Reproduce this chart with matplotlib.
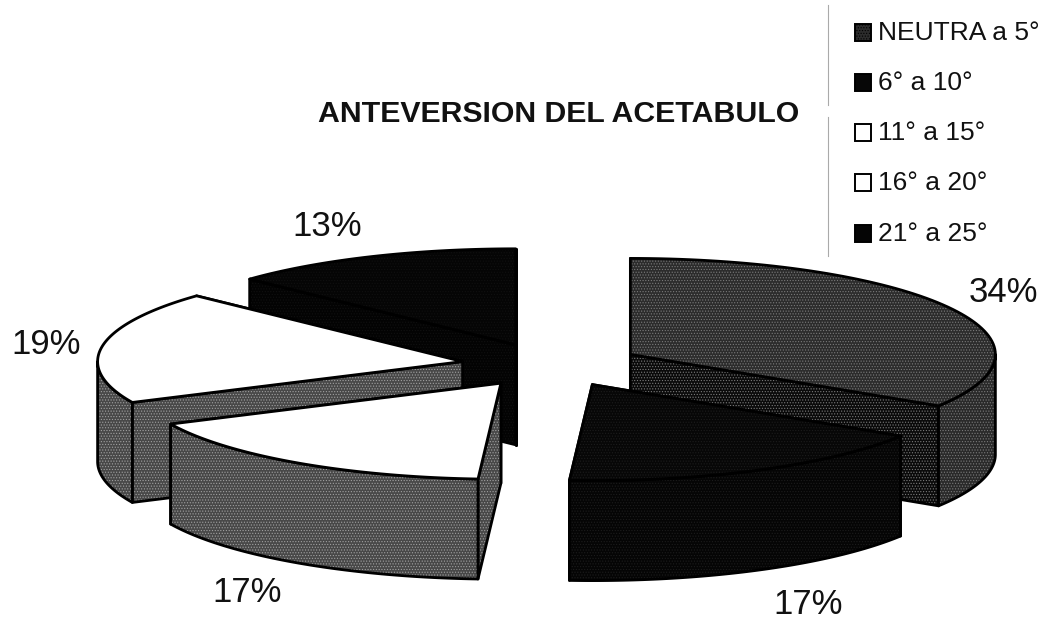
"""Exploded 3D pie, anteversion of the acetabulum. Slices are extruded by hand, mplot3d pies look wrong."""
import matplotlib
matplotlib.use("Agg")
import matplotlib.pyplot as plt
from matplotlib.patches import Polygon, Rectangle
import numpy as np

plt.rcParams["font.family"] = ["Liberation Sans", "DejaVu Sans"]
plt.rcParams["hatch.linewidth"] = 0.5

categories = ["NEUTRA a 5°", "6° a 10°", "11° a 15°", "16° a 20°", "21° a 25°"]
values = [34, 17, 17, 19, 13]
top_colors = ["#2c2c2c", "#070707", "#ffffff", "#ffffff", "#050505"]
arc_colors = ["#2a2a2a", "#050505", "#484848", "#484848", "#030303"]
radial_colors = ["#0a0a0a", "#050505", "#484848", "#484848", "#030303"]
grain = ["#7a7a7a", "#1c1c1c", "#a0a0a0", "#a0a0a0", "#101010"]
label_xy = [(1003, 292), (808, 605), (247, 593), (46, 345), (327, 227)]
legend_y = [32, 82, 132, 182, 233]

CX, CY = 551.5, 365      # pie centre in pixels
RX, RY = 365, 96         # ellipse radii of the top face
DEPTH = 100
KX, KY = 90, 22          # explode distance
draw_order = [4, 3, 0, 1, 2]

fracs = np.array(values) / sum(values) * 360
starts = np.concatenate([[0], np.cumsum(fracs)[:-1]])

fig = plt.figure(figsize=(10.58, 6.22), dpi=100)
ax = fig.add_axes([0, 0, 1, 1])
ax.set_xlim(0, 1058); ax.set_ylim(622, 0)
ax.axis("off")


def rim(cx, cy, a0, a1):
    t = np.radians(np.linspace(a0, a1, 80))
    return np.column_stack([cx + RX * np.sin(t), cy - RY * np.cos(t)])


def face(pts, fill, speck, z):
    ax.add_patch(Polygon(pts, closed=True, facecolor=fill, edgecolor=speck, hatch="......", lw=0, zorder=z))
    ax.add_patch(Polygon(pts, closed=True, fill=False, edgecolor="black", lw=2, joinstyle="round", zorder=z + 0.1))


drop = np.array([0, DEPTH])
for z, i in enumerate(draw_order):
    a0, a1 = starts[i], starts[i] + fracs[i]
    mid = np.radians((a0 + a1) / 2)
    cx, cy = CX + KX * np.sin(mid), CY - KY * np.cos(mid)
    apex = np.array([[cx, cy]])
    base = z * 10
    # radial walls, back one first
    ends = sorted([a0, a1], key=lambda a: -np.cos(np.radians(a)) * RY)
    for k, a in enumerate(ends):
        edge = rim(cx, cy, a, a)[:1]
        quad = np.vstack([apex, edge, edge + drop, apex + drop])
        face(quad, radial_colors[i], grain[i], base + k)
    # outer wall, only the part facing the viewer
    f0, f1 = max(a0, 90), min(a1, 270)
    if f1 > f0:
        arc = rim(cx, cy, f0, f1)
        face(np.vstack([arc, arc[::-1] + drop]), arc_colors[i], grain[i], base + 2)
    top = np.vstack([apex, rim(cx, cy, a0, a1)])
    if top_colors[i] == "#ffffff":
        ax.add_patch(Polygon(top, closed=True, facecolor="white", edgecolor="black", lw=2, zorder=base + 3))
    else:
        face(top, top_colors[i], grain[i], base + 3)

for v, (x, y) in zip(values, label_xy):
    ax.text(x, y, f"{v}%", fontsize=25, ha="center", va="center", color="#111111", zorder=100)

ax.text(559, 114, "ANTEVERSION DEL ACETABULO", fontsize=21.8, fontweight="bold",
        ha="center", va="center", color="#111111", zorder=100)

# legend, hand placed like the scanned original
ax.plot([828, 828], [5, 105], color="#aaaaaa", lw=0.8, zorder=100)
ax.plot([828, 828], [117, 256], color="#aaaaaa", lw=0.8, zorder=100)
for n, (name, y, col) in enumerate(zip(categories, legend_y, top_colors)):
    ax.add_patch(Rectangle((855, y - 8.5), 16, 17, facecolor=col, edgecolor="black", lw=1.4,
                           hatch="......" if n == 0 else None, zorder=100))
    ax.text(878, y + 1, name, fontsize=19, ha="left", va="center", color="#111111", zorder=100)

fig.savefig("out.png", dpi=100)
print("wrote out.png")
